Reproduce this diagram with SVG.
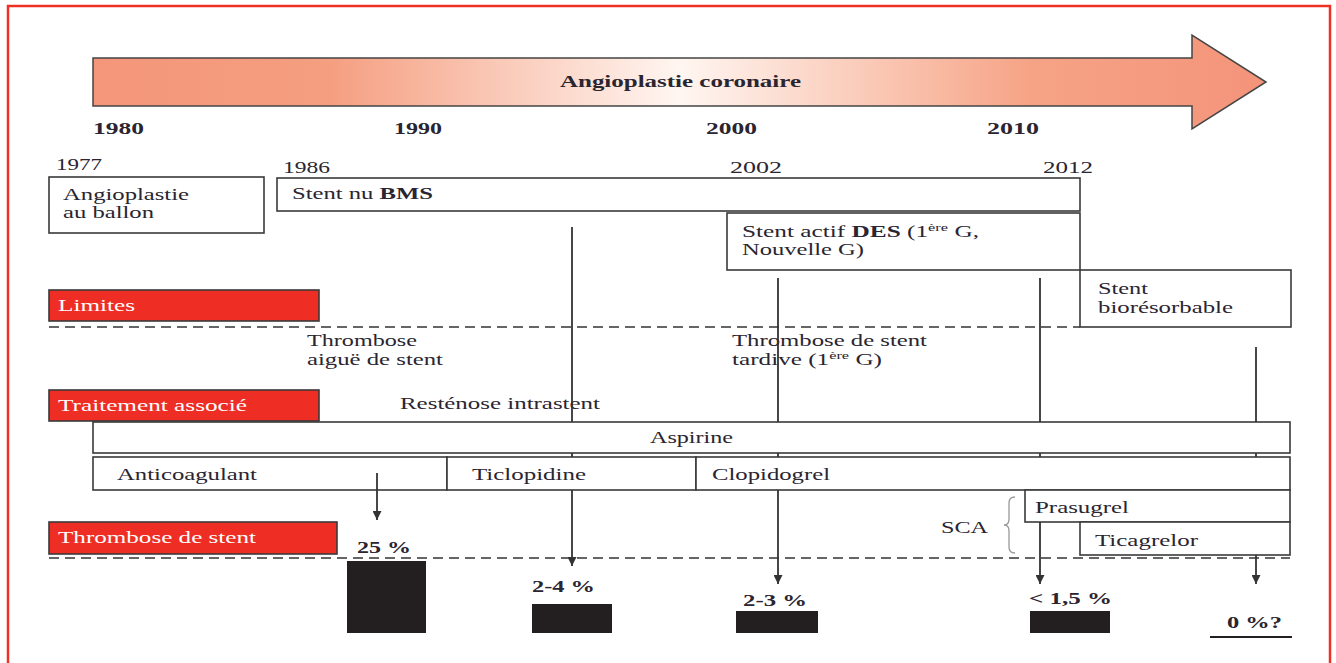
<svg xmlns="http://www.w3.org/2000/svg" width="1336" height="663" viewBox="0 0 1336 663">
<style>
text{font-family:"Liberation Serif","Times New Roman",serif;fill:#2a2530;font-size:17px}
.b{font-weight:bold}
.yr{font-weight:bold;font-size:17px}
.box{fill:#fff;stroke:#3a3a3a;stroke-width:1.6}
.red{fill:#EE2E24;stroke:#3a3a3a;stroke-width:1.6}
.wt{fill:#fff}
.dash{stroke:#333;stroke-width:1.4;stroke-dasharray:10 6;fill:none}
.conn{stroke:#333;stroke-width:1.8;fill:none}
.bar{fill:#231F20}
</style>
<defs>
<linearGradient id="g" x1="93" y1="0" x2="1266" y2="0" gradientUnits="userSpaceOnUse">
<stop offset="0" stop-color="#F4967A"/>
<stop offset="0.2" stop-color="#F59E80"/>
<stop offset="0.5" stop-color="#FFF6F1"/>
<stop offset="0.8" stop-color="#F6A385"/>
<stop offset="1" stop-color="#F4947A"/>
</linearGradient>
<marker id="ah" markerUnits="userSpaceOnUse" markerWidth="10" markerHeight="9" refX="9" refY="4.5" orient="auto">
<path d="M0,0 L9,4.5 L0,9 z" fill="#333"/>
</marker>
</defs>
<rect x="8" y="6" width="1322" height="670" fill="#fff" stroke="#EE3124" stroke-width="2.5"/>

<g id="timeline">
<path d="M93,58 L1192,58 L1192,35 L1266,82 L1192,129 L1192,106 L93,106 Z" fill="url(#g)" stroke="#444" stroke-width="1.5"/>
<text x="560" y="87" class="b" textLength="241" lengthAdjust="spacingAndGlyphs">Angioplastie coronaire</text>
<text x="93" y="134" class="yr" textLength="51" lengthAdjust="spacingAndGlyphs">1980</text>
<text x="394" y="134" class="yr" textLength="48" lengthAdjust="spacingAndGlyphs">1990</text>
<text x="706" y="134" class="yr" textLength="51" lengthAdjust="spacingAndGlyphs">2000</text>
<text x="987" y="134" class="yr" textLength="52" lengthAdjust="spacingAndGlyphs">2010</text>
<text x="56" y="170" textLength="46" lengthAdjust="spacingAndGlyphs">1977</text>
<text x="283" y="173" textLength="47" lengthAdjust="spacingAndGlyphs">1986</text>
<text x="730" y="173" textLength="52" lengthAdjust="spacingAndGlyphs">2002</text>
<text x="1043" y="173" textLength="50" lengthAdjust="spacingAndGlyphs">2012</text>
</g>

<g id="dashed-lines">
<line class="dash" x1="49" y1="327" x2="1080" y2="327"/>
<line class="dash" x1="49" y1="558" x2="1290" y2="558"/>
</g>

<g id="ballon">
<rect class="box" x="49" y="177" width="215" height="56"/>
<text x="63" y="200" textLength="126" lengthAdjust="spacingAndGlyphs">Angioplastie</text>
<text x="63" y="218" textLength="91" lengthAdjust="spacingAndGlyphs">au ballon</text>
</g>
<g id="bms">
<rect class="box" x="277" y="178" width="803" height="33"/>
<text x="292" y="199" textLength="141" lengthAdjust="spacingAndGlyphs">Stent nu <tspan class="b">BMS</tspan></text>
</g>
<g id="des">
<rect class="box" x="727" y="213" width="353" height="57"/>
<text x="742" y="237" textLength="237" lengthAdjust="spacingAndGlyphs">Stent actif <tspan class="b">DES</tspan> (1<tspan font-size="11" dy="-6">ère</tspan><tspan dy="6"> G,</tspan></text>
<text x="742" y="255" textLength="122" lengthAdjust="spacingAndGlyphs">Nouvelle G)</text>
</g>
<g id="bioresorbable">
<rect class="box" x="1080" y="270" width="211" height="57"/>
<text x="1098" y="294" textLength="50" lengthAdjust="spacingAndGlyphs">Stent</text>
<text x="1098" y="313" textLength="135" lengthAdjust="spacingAndGlyphs">biorésorbable</text>
</g>

<g id="limites">
<rect class="red" x="49" y="290" width="270" height="31"/>
<text class="wt" x="58" y="311" textLength="77" lengthAdjust="spacingAndGlyphs">Limites</text>
</g>
<g id="limit-labels">
<text x="307" y="346" textLength="110" lengthAdjust="spacingAndGlyphs">Thrombose</text>
<text x="307" y="365" textLength="136" lengthAdjust="spacingAndGlyphs">aiguë de stent</text>
<text x="732" y="346" textLength="195" lengthAdjust="spacingAndGlyphs">Thrombose de stent</text>
<text x="732" y="365" textLength="150" lengthAdjust="spacingAndGlyphs">tardive (1<tspan font-size="11" dy="-6">ère</tspan><tspan dy="6"> G)</tspan></text>
<text x="400" y="409" textLength="200" lengthAdjust="spacingAndGlyphs">Resténose intrastent</text>
</g>

<g id="aspirine">
<rect class="box" x="93" y="422" width="1197" height="31"/>
<text x="650" y="443" textLength="83" lengthAdjust="spacingAndGlyphs">Aspirine</text>
</g>
<g id="traitement">
<rect class="red" x="49" y="390" width="270" height="31"/>
<text class="wt" x="58" y="411" textLength="189" lengthAdjust="spacingAndGlyphs">Traitement associé</text>
</g>
<g id="anticoagulant">
<rect class="box" x="93" y="457" width="354" height="33"/>
<text x="117" y="480" textLength="140" lengthAdjust="spacingAndGlyphs">Anticoagulant</text>
</g>
<g id="ticlopidine">
<rect class="box" x="447" y="457" width="249" height="33"/>
<text x="472" y="480" textLength="114" lengthAdjust="spacingAndGlyphs">Ticlopidine</text>
</g>
<g id="clopidogrel">
<rect class="box" x="696" y="457" width="594" height="33"/>
<text x="712" y="480" textLength="118" lengthAdjust="spacingAndGlyphs">Clopidogrel</text>
</g>
<g id="prasugrel">
<rect class="box" x="1025" y="490" width="265" height="32"/>
<text x="1035" y="513" textLength="94" lengthAdjust="spacingAndGlyphs">Prasugrel</text>
</g>
<g id="ticagrelor">
<rect class="box" x="1080" y="522" width="210" height="33"/>
<text x="1095" y="546" textLength="103" lengthAdjust="spacingAndGlyphs">Ticagrelor</text>
</g>
<g id="sca">
<text x="941" y="533" textLength="47" lengthAdjust="spacingAndGlyphs">SCA</text>
<path d="M1015,497 Q1009,497 1009,503 L1009,519 Q1009,525 1004,525 Q1009,525 1009,531 L1009,547 Q1009,553 1015,553" fill="none" stroke="#999" stroke-width="1.3"/>
</g>

<g id="thrombose-label">
<rect class="red" x="49" y="522" width="288" height="32"/>
<text class="wt" x="58" y="543" textLength="198" lengthAdjust="spacingAndGlyphs">Thrombose de stent</text>
</g>

<g id="connectors">
<path class="conn" d="M572,227 L572,422 M572,453 L572,457"/>
<path class="conn" d="M572,490 L572,566" marker-end="url(#ah)"/>
<path class="conn" d="M778,278 L778,422 M778,453 L778,457"/>
<path class="conn" d="M778,490 L778,584" marker-end="url(#ah)"/>
<path class="conn" d="M1040,278 L1040,422 M1040,453 L1040,457"/>
<path class="conn" d="M1040,522 L1040,584" marker-end="url(#ah)"/>
<path class="conn" d="M1256,347 L1256,422 M1256,453 L1256,457"/>
<path class="conn" d="M1256,555 L1256,584" marker-end="url(#ah)"/>
<path class="conn" d="M377,473 L377,520" marker-end="url(#ah)"/>
</g>

<g id="bar-25">
<rect class="bar" x="347" y="561" width="79" height="72"/>
<text class="b" x="357" y="553" textLength="54" lengthAdjust="spacingAndGlyphs">25 %</text>
</g>
<g id="bar-2-4">
<rect class="bar" x="532" y="604" width="80" height="29"/>
<text class="b" x="532" y="592" textLength="63" lengthAdjust="spacingAndGlyphs">2-4 %</text>
</g>
<g id="bar-2-3">
<rect class="bar" x="736" y="611" width="82" height="22"/>
<text class="b" x="743" y="606" textLength="64" lengthAdjust="spacingAndGlyphs">2-3 %</text>
</g>
<g id="bar-1-5">
<rect class="bar" x="1030" y="611" width="80" height="22"/>
<text class="b" x="1029" y="604" textLength="83" lengthAdjust="spacingAndGlyphs">&lt; 1,5 %</text>
</g>
<g id="bar-0">
<line x1="1210" y1="637" x2="1292" y2="637" stroke="#231F20" stroke-width="2"/>
<text class="b" x="1227" y="628" textLength="55" lengthAdjust="spacingAndGlyphs">0 %?</text>
</g>
</svg>
